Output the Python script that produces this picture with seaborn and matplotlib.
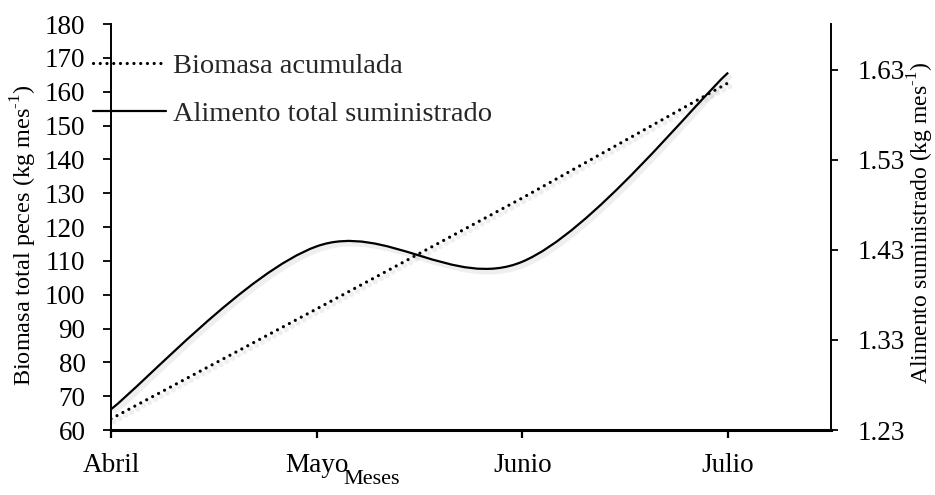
import numpy as np
import pandas as pd
import matplotlib
matplotlib.use("Agg")
import matplotlib.pyplot as plt
import matplotlib.patheffects as pe
from matplotlib.path import Path
from matplotlib.patches import PathPatch
from matplotlib.lines import Line2D
import seaborn as sns

# data
meses = ["Abril", "Mayo", "Junio", "Julio"]
biomasa = [63.3, 95.8, 128.6, 162.6]          # kg mes-1, left axis
alimento = [1.253, 1.434, 1.417, 1.627]       # kg mes-1, right axis

df = pd.DataFrame({"mes": meses, "biomasa": biomasa, "alimento": alimento})

sns.set_theme(style="ticks")
plt.rcParams["font.family"] = ["Liberation Serif", "DejaVu Serif"]
plt.rcParams["mathtext.fontset"] = "custom"
plt.rcParams["mathtext.rm"] = "Liberation Serif"

fig = plt.figure(figsize=(9.35, 4.95), dpi=100)
ax = fig.add_axes([111 / 935, 1 - 430 / 495, 720 / 935, 406 / 495])
ax2 = ax.twinx()

shadow = [pe.SimpleLineShadow(offset=(2, -2), alpha=0.12, shadow_color="gray", linewidth=4), pe.Normal()]
dots = (0, (0.01, 2.1))

# dotted: biomasa acumulada
xpos = np.arange(len(meses))
sns.lineplot(x=xpos, y=df["biomasa"], ax=ax, color="black", linewidth=2.3,
             linestyle=dots, dash_capstyle="round", path_effects=shadow)

# solid: alimento total, smoothed like excel (catmull-rom bezier)
pts = np.column_stack([xpos, df["alimento"].values])
ext = np.vstack([pts[0], pts, pts[-1]])
verts = [tuple(pts[0])]
codes = [Path.MOVETO]
for i in range(len(pts) - 1):
    p_prev, p0, p1, p_next = ext[i], ext[i + 1], ext[i + 2], ext[i + 3]
    c1 = p0 + (p1 - p_prev) / 6
    c2 = p1 - (p_next - p0) / 6
    verts += [tuple(c1), tuple(c2), tuple(p1)]
    codes += [Path.CURVE4] * 3
ax2.add_patch(PathPatch(Path(verts, codes), facecolor="none", edgecolor="black",
                        linewidth=1.6, path_effects=shadow))

# axes setup
ax.set_xlim(0, 3.5)
ax.set_ylim(60, 180)
ax.set_yticks(np.arange(60, 181, 10))
ax.set_xticks(xpos)
ax.set_xticklabels(meses)
ax2.set_ylim(1.23, 1.681)
ax2.set_yticks([1.23, 1.33, 1.43, 1.53, 1.63])
ax2.set_yticklabels(["1.23", "1.33", "1.43", "1.53", "1.63"])

for s in ["top", "right"]:
    ax.spines[s].set_visible(False)
for s in ["top", "left", "bottom"]:
    ax2.spines[s].set_visible(False)
ax.spines["left"].set_linewidth(1.4)
ax.spines["bottom"].set_linewidth(2.2)
ax2.spines["right"].set_linewidth(1.4)
for a in (ax, ax2):
    for sp in a.spines.values():
        sp.set_color("black")

ax.tick_params(axis="y", direction="out", length=5.8, width=1.3, pad=12.5, labelsize=19.5, colors="black")
ax.tick_params(axis="x", direction="out", length=5.8, width=1.6, pad=11, labelsize=19.5, colors="black")
ax2.tick_params(axis="y", direction="out", length=5, width=1.3, pad=14, labelsize=19.5, colors="black")

ax.set_ylabel("Biomasa total peces (kg mes$^{\\mathrm{\u2010}1}$)", fontsize=17.5, color="black")
ax.yaxis.label.set_va("center")
ax.yaxis.set_label_coords(-0.121, 0.48)
ax2.set_ylabel("Alimento suministrado (kg mes$^{\\mathrm{\u2010}1}$)", fontsize=17, color="black")
ax2.yaxis.label.set_va("center")
ax2.yaxis.set_label_coords(1.125, 0.51)
ax.set_xlabel("Meses", fontsize=16, color="black")
ax.xaxis.set_label_coords(0.362, -0.098)

handles = [Line2D([], [], color="black", linewidth=2.3, linestyle=dots, dash_capstyle="round"),
           Line2D([], [], color="black", linewidth=1.6)]
fig.legend(handles, ["Biomasa acumulada", "Alimento total suministrado"],
           loc="upper left", bbox_to_anchor=(93 / 935, 1 - 53 / 495), frameon=False,
           fontsize=20.5, handlelength=2.56, handletextpad=0.25, labelspacing=0.79, borderpad=0,
           borderaxespad=0)

fig.savefig("out.png", dpi=100)
